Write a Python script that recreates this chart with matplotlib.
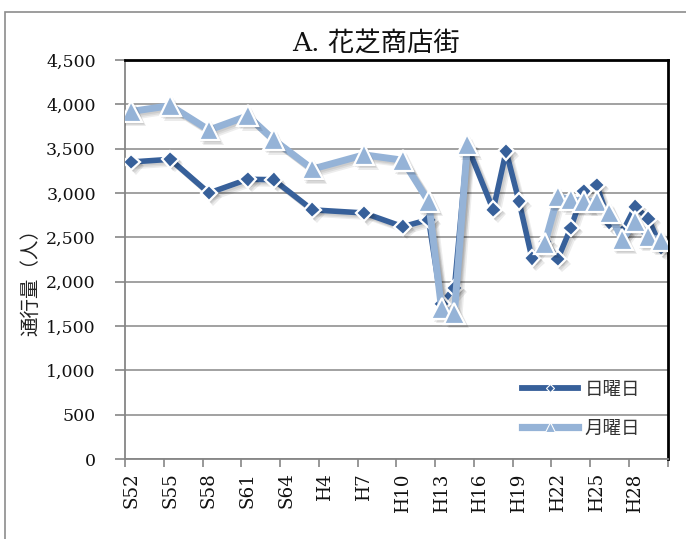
import numpy as np
import matplotlib
matplotlib.use("Agg")
import matplotlib.pyplot as plt
import matplotlib.patheffects as pe
from matplotlib.lines import Line2D
from matplotlib.patches import Rectangle

# ---- data -------------------------------------------------------------
# category axis: one slot per year, S52 (1977) .. H30 (2018)
years = (["S%d" % y for y in range(52, 65)] +
         ["H%d" % y for y in range(2, 31)])
tick_labels = ["S52", "S55", "S58", "S61", "S64", "H4", "H7", "H10",
               "H13", "H16", "H19", "H22", "H25", "H28"]

# Sunday (日曜日)
sun_years = ["S52", "S55", "S58", "S61", "S63", "H3", "H7", "H10", "H12",
             "H13", "H14", "H15", "H17", "H18", "H19", "H20", "H21", "H22",
             "H23", "H24", "H25", "H26", "H27", "H28", "H29", "H30"]
sun_vals = [3350, 3380, 3000, 3155, 3150, 2810, 2775, 2620, 2700,
            1750, 1930, 3530, 2810, 3470, 2905, 2265, 2450, 2255,
            2605, 3020, 3090, 2670, 2560, 2845, 2710, 2385]

# Monday (月曜日); None marks the break in the line (no survey)
mon_years = ["S52", "S55", "S58", "S61", "S63", "H3", "H7", "H10", "H12",
             "H13", "H14", "H15", "H16", "H21", "H22", "H23", "H24", "H25",
             "H26", "H27", "H28", "H29", "H30"]
mon_vals = [3920, 3985, 3710, 3870, 3600, 3270, 3430, 3370, 2905,
            1700, 1645, 3545, None, 2435, 2960, 2925, 2905, 2905,
            2775, 2475, 2680, 2510, 2465]

legend_labels = ["日曜日", "月曜日"]
title = "A. 花芝商店街"
ylabel = "通行量（人）"

# ---- styling ----------------------------------------------------------
dark = "#37609A"
light = "#95B3D7"
W, H = 686, 539

fig = plt.figure(figsize=(W / 100, H / 100), dpi=100)
fig.patch.set_facecolor("white")
ax = fig.add_axes([125 / W, 1 - 459 / H, (667.6 - 125) / W, (459 - 60) / H])

idx = {y: i for i, y in enumerate(years)}
sx = np.array([idx[y] for y in sun_years], float)
sy = np.array(sun_vals, float)
mx = np.array([idx[y] for y in mon_years], float)
my = np.array([np.nan if v is None else v for v in mon_vals], float)

# soft drop shadow built from a few offset copies
offs = [(1.2, -1.2), (2.2, -2.2), (3.2, -3.2)]
line_shadow = [pe.SimpleLineShadow(offset=o, shadow_color="k", alpha=0.07) for o in offs] + [pe.Normal()]
mark_shadow = [pe.SimplePatchShadow(offset=o, shadow_rgbFace="k", alpha=0.08) for o in offs] + [pe.Normal()]

def draw_series(x, y, color, lw, marker, ms, z):
    ax.plot(x, y, color=color, lw=lw, solid_joinstyle="round",
            solid_capstyle="round", zorder=z, path_effects=line_shadow)
    ax.plot(x, y, ls="none", marker=marker, ms=ms, mfc=color, mec="white",
            mew=1.6, zorder=z + 0.5, path_effects=mark_shadow)

draw_series(sx, sy, dark, 4.0, "D", 8.5, 3)
draw_series(mx, my, light, 5.0, "^", 15.0, 4)

ax.set_xlim(-0.5, len(years) - 0.5)
ax.set_ylim(0, 4500)

# y axis
ax.set_yticks(np.arange(0, 4501, 500))
ax.yaxis.set_major_formatter(matplotlib.ticker.FuncFormatter(lambda v, p: f"{int(v):,}"))
ax.grid(axis="y", color="#9A9A9A", lw=1.3, zorder=0)
ax.set_axisbelow(True)

# x axis: tick marks on slot boundaries every 3 years, labels centred on categories
ax.set_xticks(np.arange(-0.5, len(years), 3))
ax.set_xticklabels([])
ax.set_xticks([idx[t] for t in tick_labels], minor=True)
ax.set_xticklabels(tick_labels, minor=True, rotation=90, va="top", ha="center")
ax.tick_params(axis="x", which="major", length=6, width=1.2, color="#868686", direction="out")
ax.tick_params(axis="x", which="minor", length=0, pad=9.5)
ax.tick_params(axis="y", length=7, width=1.2, color="#868686", direction="out", pad=14)

for lab in ax.get_yticklabels():
    lab.set_family("DejaVu Serif")
    lab.set_fontsize(12.5)
    lab.set_color("#111111")
for lab in ax.get_xticklabels(minor=True):
    lab.set_family("DejaVu Serif")
    lab.set_fontsize(13.2)
    lab.set_color("#111111")

ax.spines["left"].set_color("#868686")
ax.spines["bottom"].set_color("#868686")
ax.spines["left"].set_linewidth(1.3)
ax.spines["bottom"].set_linewidth(1.3)
ax.spines["top"].set_color("black")
ax.spines["right"].set_color("black")
ax.spines["top"].set_linewidth(2)
ax.spines["right"].set_linewidth(2)

# legend
handles = [Line2D([], [], color=dark, lw=4.2, marker="D", ms=4, mfc=dark, mec="white", mew=0.8),
           Line2D([], [], color=light, lw=5.2, marker="^", ms=7, mfc=light, mec="white", mew=0.8)]
leg = ax.legend(handles, legend_labels, loc="upper left",
                bbox_to_anchor=(522 / W, 1 - 380.5 / H), bbox_transform=fig.transFigure,
                frameon=False, borderpad=0, borderaxespad=0, handlelength=3.05,
                handletextpad=0.35, labelspacing=1.15,
                prop={"family": "Noto Sans CJK JP", "size": 13.3})
for t in leg.get_texts():
    t.set_color("#333333")

# titles
fig.text(375.5 / W, 1 - 43.7 / H, title, ha="center", va="center", fontsize=19,
         family=["DejaVu Serif", "Noto Sans CJK JP"], color="#111111")
fig.text(31 / W, 1 - 278 / H, ylabel, ha="center", va="center", rotation=90,
         fontsize=14, family=["Noto Sans CJK JP", "DejaVu Sans"], color="#222222")

# outer chart-area border
fig.patches.append(Rectangle((4.5 / W, -0.2), 2, 1 - 12 / H + 0.2, transform=fig.transFigure,
                             fill=False, ec="#8C8C8C", lw=1.2))

fig.savefig("out.png", dpi=100)
